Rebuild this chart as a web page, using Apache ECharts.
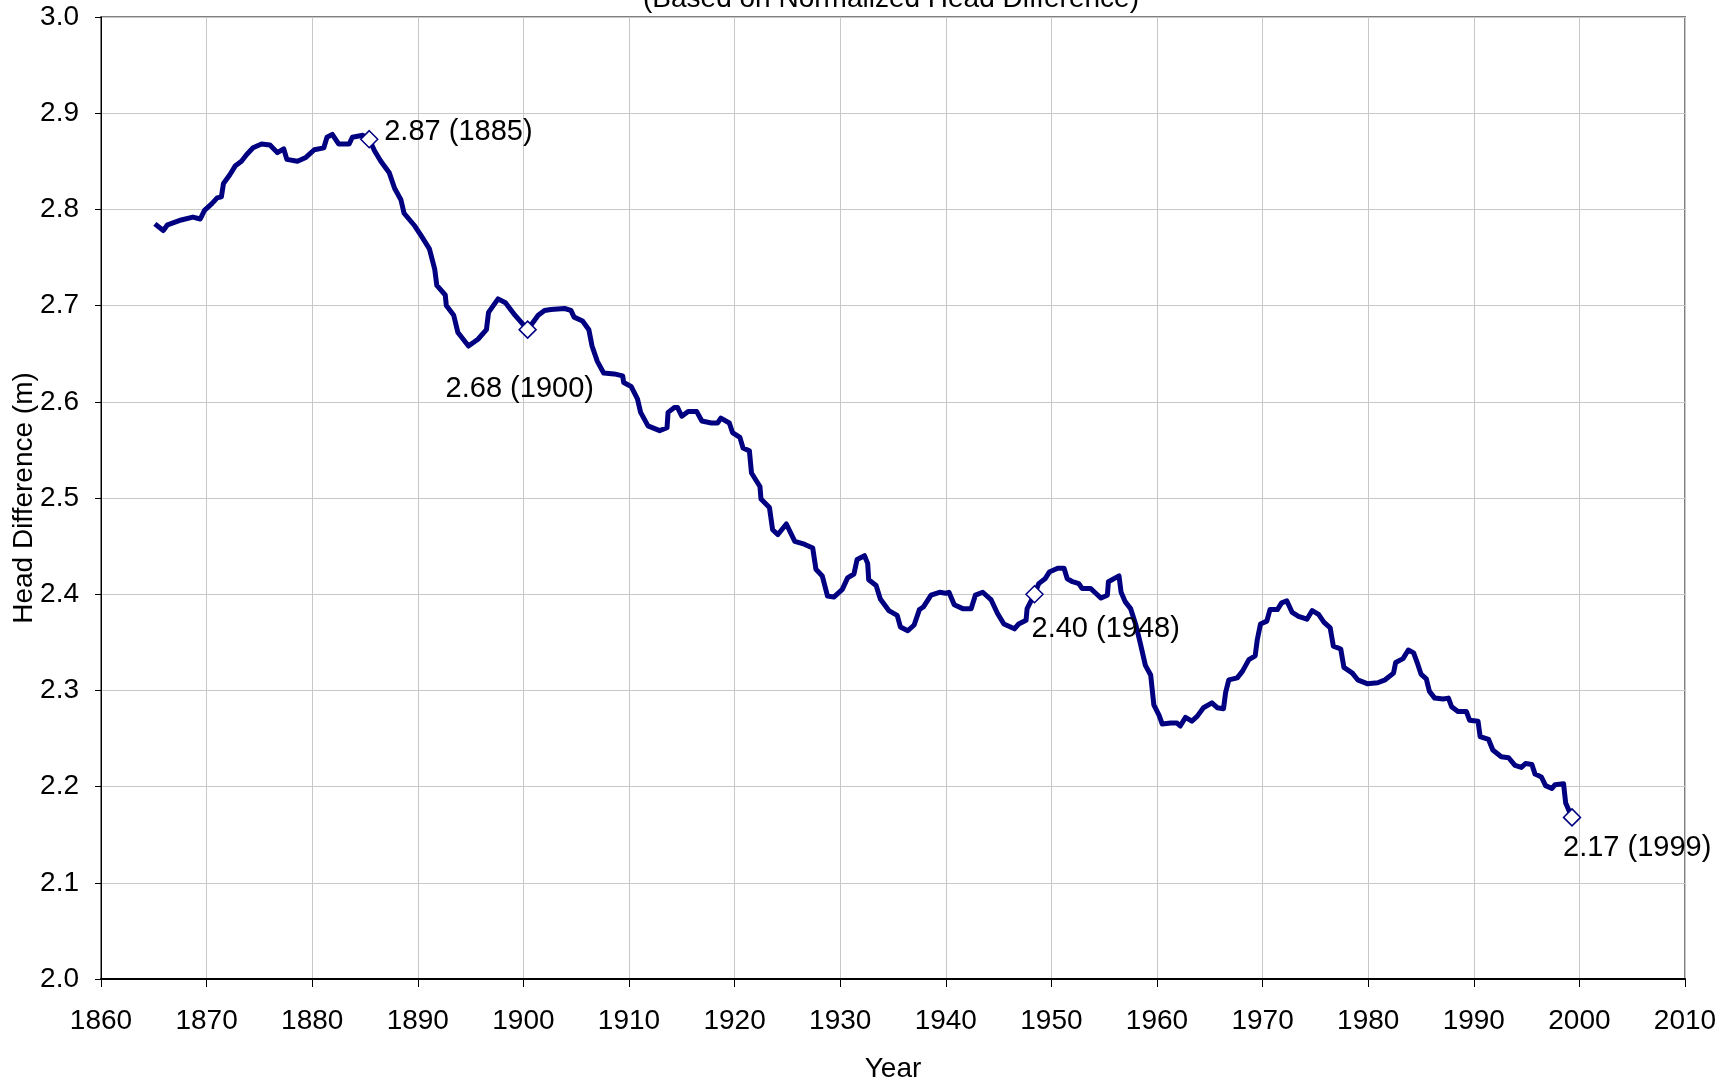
<!DOCTYPE html>
<html>
<head>
<meta charset="utf-8">
<title>Head Difference</title>
<script src="https://cdn.jsdelivr.net/npm/echarts@6/dist/echarts.min.js"></script>
<style>
  html, body { margin: 0; padding: 0; background: #fff; }
  #chart { width: 1731px; height: 1082px; }
</style>
</head>
<body>
<div id="chart"></div>
<script>
/**************** data ****************/
var years = [
  1865.1, 1865.9, 1866.3, 1867.6, 1868.7, 1869.4, 1869.8, 1870.5, 1871.0, 1871.4,
  1871.6, 1872.2, 1872.7, 1873.3, 1873.8, 1874.4, 1875.2, 1876.0, 1876.7, 1877.3,
  1877.6, 1878.6, 1879.4, 1880.2, 1881.1, 1881.4, 1881.9, 1882.5, 1883.5, 1883.8,
  1884.8, 1885.4, 1885.9, 1886.5, 1887.3, 1887.8, 1888.4, 1888.7, 1889.7, 1890.3,
  1891.1, 1891.6, 1891.8, 1892.6, 1892.7, 1893.4, 1893.8, 1894.8, 1895.7, 1896.5,
  1896.7, 1897.6, 1898.3, 1899.2, 1900.4, 1901.4, 1902.0, 1902.6, 1903.9, 1904.5,
  1904.8, 1905.6, 1906.2, 1906.5, 1907.0, 1907.6, 1908.6, 1909.4, 1909.5, 1910.2,
  1910.8, 1911.1, 1911.8, 1912.9, 1913.6, 1913.7, 1914.3, 1914.6, 1915.0, 1915.6,
  1916.4, 1916.9, 1917.8, 1918.4, 1918.7, 1919.5, 1919.8, 1920.5, 1920.8, 1921.4,
  1921.6, 1922.4, 1922.5, 1923.3, 1923.6, 1924.1, 1924.9, 1925.7, 1926.6, 1927.4,
  1927.7, 1928.3, 1928.8, 1929.4, 1930.2, 1930.7, 1931.3, 1931.6, 1932.3, 1932.6,
  1932.7, 1933.4, 1933.8, 1934.6, 1935.4, 1935.7, 1936.4, 1937.0, 1937.5, 1937.9,
  1938.6, 1939.4, 1940.0, 1940.3, 1940.8, 1941.6, 1942.4, 1942.8, 1943.5, 1944.3,
  1944.9, 1945.5, 1946.5, 1946.9, 1947.6, 1947.7, 1948.4, 1948.8, 1949.4, 1949.8,
  1950.6, 1951.2, 1951.5, 1952.0, 1952.6, 1952.9, 1953.7, 1954.2, 1954.7, 1955.3,
  1955.4, 1956.4, 1956.6, 1957.0, 1957.5, 1958.0, 1958.4, 1958.9, 1959.4, 1959.7,
  1960.2, 1960.5, 1961.3, 1961.9, 1962.2, 1962.7, 1963.3, 1963.8, 1964.4, 1965.2,
  1965.7, 1966.3, 1966.5, 1966.8, 1967.6, 1968.1, 1968.7, 1969.3, 1969.5, 1969.8,
  1970.4, 1970.7, 1971.4, 1971.8, 1972.3, 1972.8, 1973.4, 1974.2, 1974.7, 1975.3,
  1975.8, 1976.4, 1976.7, 1977.4, 1977.7, 1978.5, 1979.0, 1979.9, 1980.9, 1981.6,
  1982.4, 1982.6, 1983.3, 1983.8, 1984.3, 1984.7, 1985.0, 1985.5, 1985.8, 1986.3,
  1987.1, 1987.6, 1987.9, 1988.5, 1989.3, 1989.6, 1990.4, 1990.6, 1991.4, 1991.8,
  1992.6, 1993.3, 1993.9, 1994.5, 1994.9, 1995.5, 1995.8, 1996.4, 1996.8, 1997.4,
  1997.7, 1998.5, 1998.7, 1999.3
];
var headDiff = [
  2.785, 2.778, 2.784, 2.789, 2.792, 2.790, 2.799, 2.806, 2.812, 2.813,
  2.827, 2.836, 2.845, 2.850, 2.857, 2.864, 2.868, 2.867, 2.859, 2.863,
  2.852, 2.850, 2.854, 2.862, 2.864, 2.875, 2.878, 2.868, 2.868, 2.875,
  2.877, 2.873, 2.861, 2.850, 2.838, 2.822, 2.810, 2.796, 2.783, 2.773,
  2.759, 2.738, 2.721, 2.711, 2.700, 2.690, 2.672, 2.658, 2.665, 2.675,
  2.693, 2.707, 2.703, 2.690, 2.675, 2.690, 2.695, 2.696, 2.697, 2.695,
  2.688, 2.684, 2.675, 2.658, 2.642, 2.630, 2.629, 2.627, 2.620, 2.616,
  2.603, 2.589, 2.575, 2.570, 2.573, 2.589, 2.594, 2.594, 2.585, 2.590,
  2.590, 2.580, 2.578, 2.578, 2.583, 2.578, 2.568, 2.563, 2.552, 2.549,
  2.526, 2.512, 2.499, 2.490, 2.467, 2.462, 2.473, 2.455, 2.452, 2.448,
  2.426, 2.419, 2.398, 2.397, 2.405, 2.417, 2.421, 2.436, 2.440, 2.432,
  2.415, 2.409, 2.395, 2.383, 2.378, 2.366, 2.362, 2.368, 2.384, 2.387,
  2.399, 2.402, 2.401, 2.402, 2.389, 2.385, 2.385, 2.399, 2.402, 2.394,
  2.380, 2.369, 2.364, 2.369, 2.373, 2.385, 2.400, 2.411, 2.416, 2.423,
  2.427, 2.427, 2.416, 2.413, 2.411, 2.406, 2.406, 2.401, 2.396, 2.399,
  2.413, 2.419, 2.402, 2.392, 2.385, 2.368, 2.350, 2.326, 2.316, 2.285,
  2.274, 2.265, 2.266, 2.266, 2.263, 2.272, 2.268, 2.273, 2.282, 2.287,
  2.282, 2.281, 2.298, 2.311, 2.313, 2.320, 2.332, 2.336, 2.353, 2.369,
  2.372, 2.384, 2.384, 2.391, 2.393, 2.381, 2.377, 2.374, 2.383, 2.379,
  2.371, 2.365, 2.346, 2.343, 2.324, 2.318, 2.311, 2.307, 2.308, 2.311,
  2.318, 2.329, 2.333, 2.342, 2.339, 2.327, 2.317, 2.312, 2.299, 2.292,
  2.291, 2.292, 2.283, 2.278, 2.278, 2.269, 2.268, 2.252, 2.249, 2.238,
  2.231, 2.230, 2.222, 2.220, 2.224, 2.223, 2.213, 2.210, 2.201, 2.198,
  2.202, 2.203, 2.183, 2.168
];

// highlighted points
var markYears = [1885.4, 1900.4, 1948.4, 1999.3];
var markValues = [2.873, 2.675, 2.400, 2.168];
var markLabels = ['2.87 (1885)', '2.68 (1900)', '2.40 (1948)', '2.17 (1999)'];

/**************** chart ****************/
var FONT = '"Liberation Sans", Arial, sans-serif';

var lineData = [];
for (var i = 0; i < years.length; i++) {
  lineData.push([years[i], headDiff[i]]);
}

// label offsets (left edge / middle of text, relative to the marker)
var labelOffsets = [[15, -7], [-82, 59], [-3, 35], [-9, 31]];
var markData = [];
for (var j = 0; j < markYears.length; j++) {
  markData.push({
    value: [markYears[j], markValues[j]],
    name: markLabels[j],
    label: { offset: labelOffsets[j] }
  });
}

var myChart = echarts.init(document.getElementById('chart'));

var option = {
  backgroundColor: '#ffffff',
  animation: false,
  title: {
    text: '(Based on Normalized Head Difference)',
    left: 886,
    textAlign: 'center',
    top: -20,
    textStyle: { fontFamily: FONT, fontSize: 28, fontWeight: 'normal', color: '#000' }
  },
  grid: {
    left: 101,
    right: 46,
    top: 17,
    bottom: 103,
    containLabel: false,
    outerBoundsMode: 'none',
    show: true,
    borderColor: '#808080',
    borderWidth: 2,
    backgroundColor: '#ffffff'
  },
  xAxis: {
    type: 'value',
    min: 1860,
    max: 2010,
    interval: 10,
    name: 'Year',
    nameLocation: 'middle',
    nameGap: 76,
    nameTextStyle: { fontFamily: FONT, fontSize: 28, color: '#000' },
    axisLine: { show: true, onZero: false, lineStyle: { color: '#000', width: 2 } },
    axisTick: { show: true, inside: false, length: 8, lineStyle: { color: '#000', width: 1 } },
    axisLabel: {
      margin: 28, fontFamily: FONT, fontSize: 28, color: '#000',
      showMinLabel: true, showMaxLabel: true,
      formatter: function (v) { return String(v); }
    },
    splitLine: { show: true, lineStyle: { color: '#c8c8c8', width: 1 } }
  },
  yAxis: {
    type: 'value',
    min: 2.0,
    max: 3.0,
    interval: 0.1,
    name: 'Head Difference (m)',
    nameLocation: 'middle',
    nameGap: 63,
    nameRotate: 90,
    nameMoveOverlap: false,
    nameTextStyle: { fontFamily: FONT, fontSize: 28, color: '#000' },
    axisLine: { show: true, onZero: false, lineStyle: { color: '#000', width: 1 } },
    axisTick: { show: true, inside: false, length: 6, lineStyle: { color: '#000', width: 1 } },
    axisLabel: {
      margin: 22, fontFamily: FONT, fontSize: 28, color: '#000',
      formatter: function (v) { return v.toFixed(1); }
    },
    splitLine: { show: true, lineStyle: { color: '#c8c8c8', width: 1 } }
  },
  series: [
    {
      name: 'Head Difference',
      type: 'line',
      data: lineData,
      symbol: 'none',
      lineStyle: { color: '#000080', width: 5, join: 'round' },
      z: 3
    },
    {
      name: 'Marks',
      type: 'scatter',
      data: markData,
      symbol: 'diamond',
      symbolSize: 17,
      itemStyle: { color: '#ffffff', borderColor: '#000080', borderWidth: 1.5, opacity: 1 },
      label: {
        show: true,
        position: 'inside',
        align: 'left',
        verticalAlign: 'middle',
        formatter: function (p) { return p.name; },
        fontFamily: FONT,
        fontSize: 29,
        color: '#000',
        textBorderColor: 'transparent',
        textBorderWidth: 0
      },
      z: 5
    }
  ]
};

myChart.setOption(option);
</script>
</body>
</html>
